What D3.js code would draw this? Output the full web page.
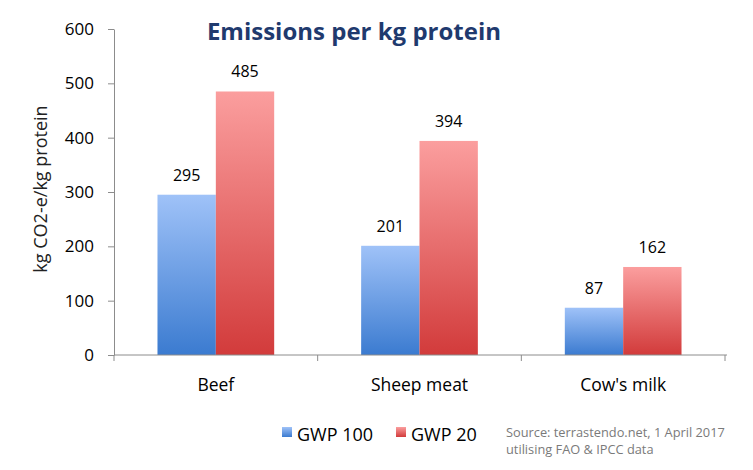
<!DOCTYPE html>
<html>
<head>
<meta charset="utf-8">
<style>
  body { margin: 0; background: white; }
  text { font-family: "Open Sans", "Noto Sans", sans-serif; }
  .axis path, .axis line { stroke: #8c8c8c; }
  .axis text { fill: black; font-size: 17px; font-family: "Open Sans", sans-serif; }
</style>
<title>Emissions per kg protein</title>
</head>
<body>
<script src="https://cdnjs.cloudflare.com/ajax/libs/d3/7.8.5/d3.min.js"></script>
<script>
// Emissions per kg protein (kg CO2-e)
var categories = ["Beef", "Sheep meat", "Cow's milk"];
var seriesNames = ["GWP 100", "GWP 20"];
var gwp100 = [295, 201, 87];
var gwp20 = [485, 394, 162];
var yTicks = [0, 100, 200, 300, 400, 500, 600];

var colorsTop = ["#9fc2f8", "#fb9e9e"];
var colorsBottom = ["#3b7bd0", "#d23b3b"];

var svg = d3.select("body").append("svg")
    .attr("width", 753)
    .attr("height", 470);

var plotLeft = 114, plotRight = 725, plotTop = 29, plotBottom = 355;

var xScale = d3.scaleBand()
    .domain(categories)
    .range([plotLeft, plotRight])
    .paddingInner(0.427)
    .paddingOuter(0.2135);

var xSub = d3.scaleBand()
    .domain(seriesNames)
    .range([0, xScale.bandwidth()]);

var yScale = d3.scaleLinear()
    .domain([0, 600])
    .range([plotBottom, plotTop]);

// gradients
var defs = svg.append("defs");
seriesNames.forEach(function(s, i) {
  var g = defs.append("linearGradient")
      .attr("id", "grad" + i)
      .attr("x1", 0).attr("y1", 0)
      .attr("x2", 0).attr("y2", 1);
  g.append("stop").attr("offset", "0%").attr("stop-color", colorsTop[i]);
  g.append("stop").attr("offset", "100%").attr("stop-color", colorsBottom[i]);
});

var rows = categories.map(function(c, i) {
  return [{cat: c, s: 0, v: gwp100[i]}, {cat: c, s: 1, v: gwp20[i]}];
});

var groups = svg.selectAll("g.cat")
    .data(rows)
    .enter().append("g")
    .attr("class", "cat")
    .attr("transform", function(d) { return "translate(" + xScale(d[0].cat) + ",0)"; });

groups.selectAll("rect")
    .data(function(d) { return d; })
    .enter().append("rect")
    .attr("x", function(d) { return xSub(seriesNames[d.s]); })
    .attr("y", function(d) { return yScale(d.v); })
    .attr("width", xSub.bandwidth())
    .attr("height", function(d) { return plotBottom - yScale(d.v); })
    .style("fill", function(d) { return "url(#grad" + d.s + ")"; });

groups.selectAll("text.val")
    .data(function(d) { return d; })
    .enter().append("text")
    .attr("class", "val")
    .attr("x", function(d) { return xSub(seriesNames[d.s]) + xSub.bandwidth() / 2; })
    .attr("y", function(d) { return yScale(d.v) - 14; })
    .style("text-anchor", "middle")
    .style("font-size", "16px")
    .style("fill", "black")
    .text(function(d) { return d.v; });

// y axis
var yAxis = d3.axisLeft(yScale)
    .tickValues(yTicks)
    .tickSize(6)
    .tickPadding(14)
    .tickSizeOuter(0);
svg.append("g")
   .attr("class", "axis")
   .attr("transform", "translate(" + plotLeft + ",0)")
   .call(yAxis);

// x axis, ticks at category boundaries
var xAxisG = svg.append("g")
   .attr("class", "axis")
   .attr("transform", "translate(0," + plotBottom + ")");
xAxisG.append("line")
   .attr("x1", plotLeft).attr("x2", plotRight + 2)
   .attr("y1", 0).attr("y2", 0);
var step = xScale.step();
var bounds = d3.range(categories.length + 1).map(function(i) {
  return xScale(categories[0]) - xScale.paddingOuter() * step + i * step;
});
xAxisG.selectAll("line.tick")
   .data(bounds)
   .enter().append("line")
   .attr("class", "tick")
   .attr("x1", function(d) { return d; }).attr("x2", function(d) { return d; })
   .attr("y1", 0).attr("y2", 6);
xAxisG.selectAll("text")
   .data(categories)
   .enter().append("text")
   .attr("x", function(d) { return xScale(d) + xScale.bandwidth() / 2; })
   .attr("y", 36)
   .style("text-anchor", "middle")
   .style("font-size", "17.5px")
   .style("fill", "black")
   .text(function(d) { return d; });

// y axis title
svg.append("text")
   .attr("transform", "translate(47,189) rotate(-90)")
   .style("text-anchor", "middle")
   .style("font-size", "18px")
   .style("fill", "#222")
   .text("kg CO2-e/kg protein");

// title
svg.append("text")
   .attr("x", 354)
   .attr("y", 40)
   .style("text-anchor", "middle")
   .style("font-size", "24px")
   .style("font-weight", "bold")
   .style("fill", "#1f3a6e")
   .text("Emissions per kg protein");

// legend
var legendX = [282, 396];
seriesNames.forEach(function(s, i) {
  svg.append("rect")
     .attr("x", legendX[i]).attr("y", 427)
     .attr("width", 10).attr("height", 10)
     .style("fill", "url(#grad" + i + ")");
  svg.append("text")
     .attr("x", legendX[i] + 15).attr("y", 441)
     .style("font-size", "18px")
     .style("fill", "black")
     .text(s);
});

// source
svg.append("text")
   .attr("x", 506).attr("y", 437)
   .style("font-size", "12.8px")
   .style("fill", "#7a7a7a")
   .text("Source: terrastendo.net, 1 April 2017");
svg.append("text")
   .attr("x", 506).attr("y", 454)
   .style("font-size", "12.8px")
   .style("fill", "#7a7a7a")
   .text("utilising FAO & IPCC data");
</script>
</body>
</html>
